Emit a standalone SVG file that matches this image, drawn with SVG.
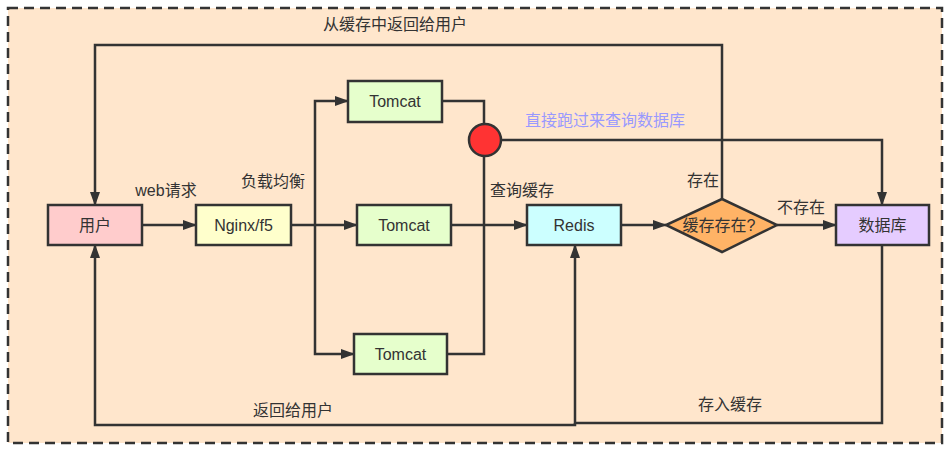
<svg xmlns="http://www.w3.org/2000/svg" width="950" height="450" viewBox="0 0 950 450">
<defs>
<marker id="arr" viewBox="0 0 14 10" refX="13" refY="5" markerWidth="14" markerHeight="10" markerUnits="userSpaceOnUse" orient="auto">
<path d="M0,0 L14,5 L0,10 Z" fill="#333"/>
</marker>
</defs>
<style>
.box{stroke:#333;stroke-width:2.5}
.edge{fill:none;stroke:#333;stroke-width:2.5}
.t{font-family:"Liberation Sans","Noto Sans CJK SC",sans-serif;font-size:16px;fill:#333;text-anchor:middle}
.lbl{font-family:"Liberation Sans","Noto Sans CJK SC",sans-serif;font-size:16px;fill:#333;text-anchor:middle}
</style>
<rect x="8" y="8" width="934" height="435" fill="#FFE6CC" stroke="#333" stroke-width="2.5" stroke-dasharray="10,6"/>
<g id="connectors">
<path class="edge" d="M142,225 L196,225" marker-end="url(#arr)"/>
<path class="edge" d="M291,225 L357,225" marker-end="url(#arr)"/>
<path class="edge" d="M315,225 L315,101 L348,101" marker-end="url(#arr)"/>
<path class="edge" d="M315,225 L315,354 L354,354" marker-end="url(#arr)"/>
<path class="edge" d="M442,101 L484,101 L484,124"/>
<path class="edge" d="M447,354 L484,354 L484,156"/>
<path class="edge" d="M451,225 L527,225" marker-end="url(#arr)"/>
<path class="edge" d="M501,140 L882,140 L882,205" marker-end="url(#arr)"/>
<path class="edge" d="M621,225 L666,225" marker-end="url(#arr)"/>
<path class="edge" d="M777,225 L836,225" marker-end="url(#arr)"/>
<path class="edge" d="M722,199 L722,45 L95,45 L95,205" marker-end="url(#arr)"/>
<path class="edge" d="M882,245 L882,423 L575,423 L575,245" marker-end="url(#arr)"/>
<path class="edge" d="M575,423 L575,425 L95,425 L95,245" marker-end="url(#arr)"/>
</g>
<g id="user"><rect class="box" x="48" y="205" width="94" height="40" fill="#FFCCCC"/><text class="t" x="95" y="231">用户</text></g>
<g id="nginx"><rect class="box" x="196" y="205" width="95" height="40" fill="#FFFFCC"/><text class="t" x="243.5" y="231">Nginx/f5</text></g>
<g id="tomcat1"><rect class="box" x="348" y="81" width="94" height="41" fill="#E6FFCC"/><text class="t" x="395" y="107">Tomcat</text></g>
<g id="tomcat2"><rect class="box" x="357" y="205" width="94" height="40" fill="#E6FFCC"/><text class="t" x="404" y="231">Tomcat</text></g>
<g id="tomcat3"><rect class="box" x="354" y="334" width="93" height="40" fill="#E6FFCC"/><text class="t" x="400.5" y="360">Tomcat</text></g>
<g id="junction"><circle cx="485" cy="140" r="16" fill="#FF3333" stroke="#333" stroke-width="2.5"/></g>
<g id="redis"><rect class="box" x="527" y="205" width="94" height="40" fill="#CCFFFF"/><text class="t" x="574" y="231">Redis</text></g>
<g id="check"><path class="box" d="M722,199 L777,225 L722,252 L666,225 Z" fill="#FFB366"/><text class="t" x="719" y="231">缓存存在?</text></g>
<g id="db"><rect class="box" x="836" y="205" width="93" height="40" fill="#E5CCFF"/><text class="t" x="882.5" y="231">数据库</text></g>
<g id="labels">
<text class="lbl" x="395" y="30">从缓存中返回给用户</text>
<text class="lbl" x="166" y="196">web请求</text>
<text class="lbl" x="273" y="187">负载均衡</text>
<text class="lbl" x="605" y="126" style="fill:#9999FF">直接跑过来查询数据库</text>
<text class="lbl" x="522" y="196">查询缓存</text>
<text class="lbl" x="703" y="186">存在</text>
<text class="lbl" x="801" y="213">不存在</text>
<text class="lbl" x="293" y="416">返回给用户</text>
<text class="lbl" x="730" y="410">存入缓存</text>
</g>
</svg>
